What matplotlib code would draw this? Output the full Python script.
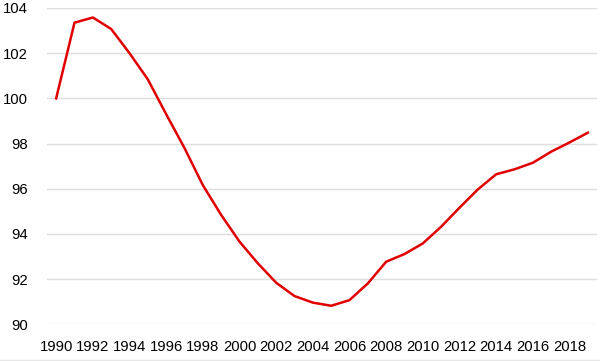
import matplotlib
matplotlib.use("Agg")
import matplotlib.pyplot as plt
from matplotlib.lines import Line2D

years = list(range(1990, 2020))
values = [100.0, 103.35, 103.58, 103.07, 102.0, 100.84, 99.3, 97.8, 96.16, 94.84,
          93.66, 92.70, 91.84, 91.25, 90.96, 90.82, 91.07, 91.81, 92.77, 93.11,
          93.58, 94.32, 95.16, 95.97, 96.64, 96.86, 97.15, 97.64, 98.05, 98.48]
xticks = list(range(1990, 2019, 2))
yticks = [90, 92, 94, 96, 98, 100, 102, 104]

plt.rcParams['font.family'] = ['Liberation Sans', 'DejaVu Sans']
fig = plt.figure(figsize=(6.0, 3.61), dpi=100)
ax = fig.add_axes([47/600, 1-324.3/361, 550/600, (324.3-8)/361])
ax.plot(years, values, color='#e00000', linewidth=1.8, solid_joinstyle='round')
ax.set_xlim(1989.5, 2019.5)
ax.set_ylim(90, 104)
ax.set_xticks(xticks)
ax.set_xticklabels([str(t) for t in xticks])
ax.set_yticks(yticks)
ax.grid(axis='y', color='#dedede', linewidth=1)
ax.set_axisbelow(True)
for s in ax.spines.values():
    s.set_visible(False)
ax.tick_params(axis='both', length=0, labelsize=10.7, colors='black')
ax.tick_params(axis='y', pad=14)
ax.tick_params(axis='x', pad=11)
fig.add_artist(Line2D([0, 1], [1.5/361, 1.5/361], color='#e6e6e6', linewidth=1))
fig.savefig('out.png', dpi=100)
